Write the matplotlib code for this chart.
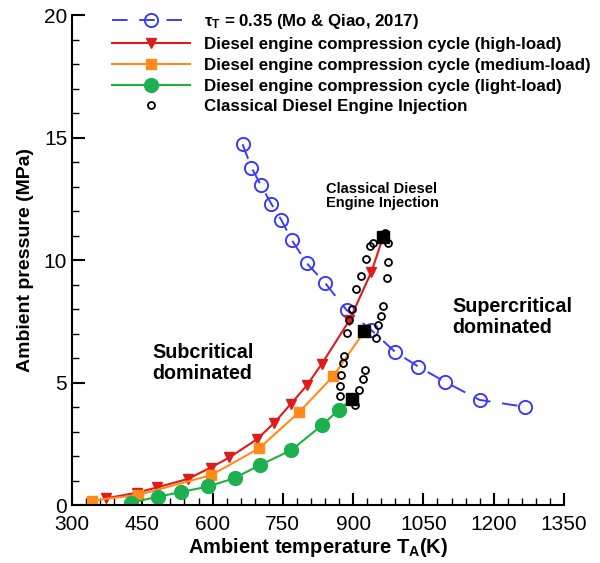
import matplotlib
matplotlib.use('Agg')
import matplotlib.pyplot as plt
from matplotlib.ticker import MultipleLocator

plt.rcParams['font.family'] = 'Liberation Sans'
plt.rcParams['mathtext.fontset'] = 'custom'
plt.rcParams['mathtext.rm'] = 'Liberation Sans'
plt.rcParams['mathtext.bf'] = 'Liberation Sans:bold'
plt.rcParams['mathtext.it'] = 'Liberation Sans:italic'

# tau_T = 0.35 line (Mo & Qiao, 2017)
tauT = [664, 683, 703, 725, 747, 769, 801, 840, 886, 939, 989, 1039, 1096, 1170, 1266]
tauP = [14.73, 13.78, 13.06, 12.31, 11.63, 10.82, 9.87, 9.07, 7.96, 7.14, 6.26, 5.65, 5.03, 4.29, 4.01]

# compression cycles, last point is the black square (end of compression)
highT = [372, 438, 482, 548, 596, 636, 695, 732, 767, 801, 833, 892, 939, 964]
highP = [0.27, 0.50, 0.72, 1.07, 1.53, 1.94, 2.69, 3.36, 4.13, 4.88, 5.76, 7.54, 9.52, 10.95]
medT = [342, 441, 597, 699, 784, 858, 924]
medP = [0.18, 0.41, 1.22, 2.31, 3.78, 5.27, 7.10]
lightT = [425, 483, 533, 591, 647, 701, 768, 833, 869, 898]
lightP = [0.09, 0.34, 0.53, 0.76, 1.10, 1.63, 2.24, 3.25, 3.88, 4.34]

# classical diesel engine injection points
injT = [969, 943, 937, 975, 927, 975, 917, 972, 907, 897, 963, 960, 892, 954, 886,
        949, 880, 878, 925, 874, 920, 872, 913, 873, 903]
injP = [11.12, 10.71, 10.56, 10.71, 10.05, 9.91, 9.35, 9.25, 8.80, 7.99, 8.13, 7.73, 7.54,
        7.35, 7.04, 6.82, 6.10, 5.80, 5.52, 5.29, 5.16, 4.86, 4.69, 4.44, 4.08]

fig = plt.figure(figsize=(6.0, 5.63), dpi=100)
ax = fig.add_axes([0.12, 0.103, 0.82, 0.870])

ax.plot(tauT, tauP, color='#3a3aff', lw=1.4, dashes=(8, 6), marker='o', ms=9.5,
        mfc='none', mec='#3a3aff', mew=1.4,
        label=r'$\mathbf{\tau_T}$ = 0.35 (Mo & Qiao, 2017)')
ax.plot(highT[:-1], highP[:-1], color='#dd1c1c', lw=1.5, marker='v', ms=7.5,
        label='Diesel engine compression cycle (high-load)')
ax.plot(highT[-2:], highP[-2:], color='#dd1c1c', lw=1.5)
ax.plot(medT[:-1], medP[:-1], color='#ff8c1a', lw=1.5, marker='s', ms=7,
        label='Diesel engine compression cycle (medium-load)')
ax.plot(medT[-2:], medP[-2:], color='#ff8c1a', lw=1.5)
ax.plot(lightT[:-1], lightP[:-1], color='#22b03a', lw=1.5, marker='o', ms=10,
        mfc='#1db050', mec='#1db050',
        label='Diesel engine compression cycle (light-load)')
ax.plot(lightT[-2:], lightP[-2:], color='#22b03a', lw=1.5)
ax.plot(injT, injP, ls='none', marker='o', ms=5, mfc='none', mec='black', mew=1.3,
        label='Classical Diesel Engine Injection')
ax.plot([highT[-1], medT[-1], lightT[-1]], [highP[-1], medP[-1], lightP[-1]],
        ls='none', marker='s', ms=8, color='black')

ax.set_xlim(300, 1350)
ax.set_ylim(0, 20)
ax.xaxis.set_major_locator(MultipleLocator(150))
ax.xaxis.set_minor_locator(MultipleLocator(30))
ax.yaxis.set_major_locator(MultipleLocator(5))
ax.yaxis.set_minor_locator(MultipleLocator(1))
ax.tick_params(which='major', direction='in', length=9, width=1.5, labelsize=15)
ax.tick_params(axis='x', which='major', pad=7)
ax.tick_params(which='minor', direction='in', length=5, width=1.0)
ax.spines['top'].set_visible(False)
ax.spines['right'].set_visible(False)
ax.spines['left'].set_linewidth(1.5)
ax.spines['bottom'].set_linewidth(1.5)

ax.set_xlabel(r'Ambient temperature $\mathbf{T_A}$(K)', fontsize=14.5, fontweight='bold', labelpad=1.5)
ax.set_ylabel('Ambient pressure (MPa)', fontsize=14, fontweight='bold', labelpad=7)

ax.text(842, 12.6, 'Classical Diesel\nEngine Injection', fontsize=10.5, fontweight='bold',
        ha='left', va='center', linespacing=1.0)
ax.text(1111, 7.67, 'Supercritical\ndominated', fontsize=14.2, fontweight='bold',
        ha='left', va='center', linespacing=1.1)
ax.text(472, 5.8, 'Subcritical\ndominated', fontsize=14.2, fontweight='bold',
        ha='left', va='center', linespacing=1.1)

leg = fig.legend(loc='upper left', bbox_to_anchor=(0.187, 0.978), frameon=False,
                 prop={'weight': 'bold', 'size': 12.2}, numpoints=1,
                 handlelength=4.6, handletextpad=0.8, labelspacing=0.34,
                 borderpad=0, borderaxespad=0)

fig.savefig('out.png', dpi=100)
